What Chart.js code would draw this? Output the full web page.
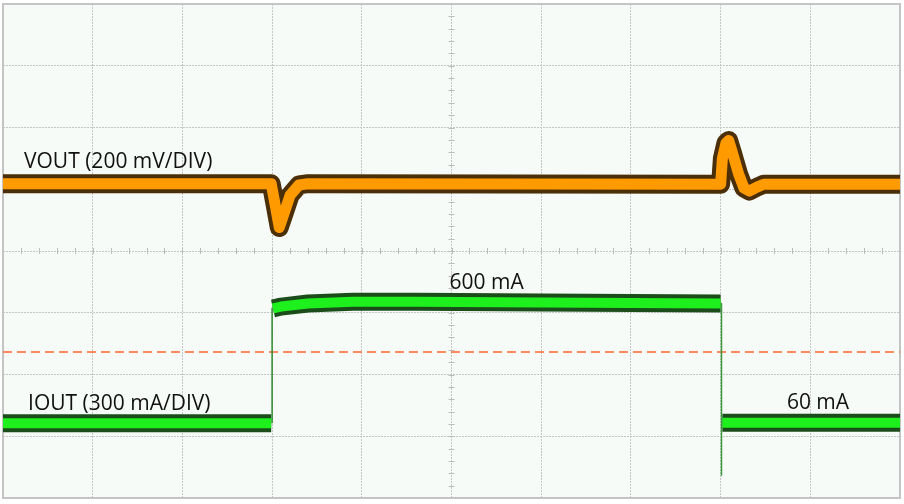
<!DOCTYPE html>
<html>
<head>
<meta charset="utf-8">
<script src="https://cdn.jsdelivr.net/npm/chart.js@4"></script>
<style>
  body { margin: 0; background: #ffffff; }
  #wrap { width: 904px; height: 504px; position: relative; }
</style>
</head>
<body>
<div id="wrap"><canvas id="scope"></canvas></div>
<script>
"use strict";

// time in divisions (0..10), level in divisions (0..8, bottom = 0)
const voutTime = [0, 2.99, 3.04, 3.08, 3.12, 3.2, 3.3, 3.4, 8.0, 8.02, 8.06, 8.09, 8.13, 8.2, 8.26, 8.32, 8.4, 8.48, 10];
const voutLevel = [5.09, 5.09, 4.7, 4.38, 4.55, 4.9, 5.07, 5.09, 5.08, 5.5, 5.75, 5.79, 5.6, 5.25, 5.02, 4.97, 5.03, 5.08, 5.08];

const ioutLowTime = [0, 2.99];
const ioutLowLevel = [1.21, 1.21];
const ioutHighTime = [3.01, 3.1, 3.4, 3.9, 4.6, 6.5, 8.0];
const ioutHighLevel = [3.07, 3.1, 3.15, 3.18, 3.18, 3.16, 3.15];
const ioutLow2Time = [8.02, 10];
const ioutLow2Level = [1.22, 1.22];

// thin edges of the current step
const riseTime = [3.0, 3.0];
const riseLevel = [1.21, 3.08];
const fallTime = [8.01, 8.01, 8.01];
const fallLevel = [3.15, 0.37, 1.22];

const triggerTime = [0, 10];
const triggerLevel = [2.364, 2.364];

const labelTexts = ["VOUT (200 mV/DIV)", "600 mA", "IOUT (300 mA/DIV)", "60 mA"];
const labelTime = [0.234, 4.978, 0.279, 8.739];
const labelLevel = [5.344, 3.385, 1.425, 1.441];

function pts(xs, ys) {
    return xs.map((x, i) => ({ x: x, y: ys[i] }));
}

// order: lower number is drawn on top
function trace(xs, ys, color, width, order) {
    return {
        data: pts(xs, ys),
        showLine: true,
        borderColor: color,
        borderWidth: width,
        pointRadius: 0,
        borderJoinStyle: 'round',
        borderCapStyle: 'butt',
        tension: 0,
        order: order
    };
}

// frame, background, centre-line minor ticks and texts
const scopeDecor = {
    id: 'scopeDecor',
    beforeDraw(chart) {
        const { ctx, chartArea: a } = chart;
        ctx.save();
        ctx.fillStyle = '#f7fbf7';
        ctx.fillRect(a.left, a.top, a.right - a.left, a.bottom - a.top);
        ctx.restore();
    },
    beforeDatasetsDraw(chart) {
        const { ctx, chartArea: a, scales } = chart;
        const xs = scales.x, ys = scales.y;
        ctx.save();
        ctx.strokeStyle = '#bcbcbc';
        ctx.lineWidth = 1;
        const cx = xs.getPixelForValue(5), cy = ys.getPixelForValue(4);
        for (let i = 0; i <= 50; i++) {
            const px = Math.round(xs.getPixelForValue(i / 5)) + 0.5;
            ctx.beginPath();
            ctx.moveTo(px, cy - 3);
            ctx.lineTo(px, cy + 3);
            ctx.stroke();
        }
        for (let i = 0; i <= 40; i++) {
            const py = Math.round(ys.getPixelForValue(i / 5)) + 0.5;
            ctx.beginPath();
            ctx.moveTo(cx - 3, py);
            ctx.lineTo(cx + 3, py);
            ctx.stroke();
        }
        ctx.strokeStyle = '#c4c4c4';
        ctx.lineWidth = 2;
        ctx.strokeRect(a.left, a.top, a.right - a.left, a.bottom - a.top);
        ctx.restore();
    },
    afterDatasetsDraw(chart) {
        const { ctx, scales } = chart;
        ctx.save();
        ctx.fillStyle = '#111111';
        ctx.font = '21px "Open Sans", sans-serif';
        ctx.textBaseline = 'alphabetic';
        labelTexts.forEach((t, i) => {
            ctx.fillText(t, scales.x.getPixelForValue(labelTime[i]), scales.y.getPixelForValue(labelLevel[i]));
        });
        ctx.restore();
    }
};

const ctx = document.getElementById('scope').getContext('2d');
const chart = new Chart(ctx, {
    type: 'scatter',
    data: {
        datasets: [
            Object.assign(trace(triggerTime, triggerLevel, '#ff6430', 1.5, 9), { borderDash: [9, 5] }),
            trace(voutTime, voutLevel, '#4a2f08', 19, 6),
            trace(voutTime, voutLevel, '#ff9a00', 11, 5),
            trace(riseTime, riseLevel, '#2f8a2f', 1.5, 4),
            trace(fallTime, fallLevel, '#3c9a3c', 1.5, 4),
            trace(ioutLowTime, ioutLowLevel, '#1b4d1b', 18, 3),
            trace(ioutLowTime, ioutLowLevel, '#1ef01e', 10, 1),
            trace(ioutHighTime, ioutHighLevel, '#1b4d1b', 18, 3),
            trace(ioutHighTime, ioutHighLevel, '#1ef01e', 10, 1),
            trace(ioutLow2Time, ioutLow2Level, '#1b4d1b', 18, 3),
            trace(ioutLow2Time, ioutLow2Level, '#1ef01e', 10, 1)
        ]
    },
    options: {
        responsive: true,
        maintainAspectRatio: false,
        animation: false,
        layout: { padding: { left: 3, right: 4, top: 4, bottom: 6 } },
        plugins: { legend: { display: false }, tooltip: { enabled: false } },
        scales: {
            x: {
                type: 'linear', min: 0, max: 10,
                ticks: { display: false, stepSize: 1 },
                border: { display: false, dash: [2, 1] },
                grid: { color: '#c6c6c6', drawTicks: false, lineWidth: 1 }
            },
            y: {
                type: 'linear', min: 0, max: 8,
                ticks: { display: false, stepSize: 1 },
                border: { display: false, dash: [2, 1] },
                grid: { color: '#c6c6c6', drawTicks: false, lineWidth: 1 }
            }
        }
    },
    plugins: [scopeDecor]
});
</script>
</body>
</html>
